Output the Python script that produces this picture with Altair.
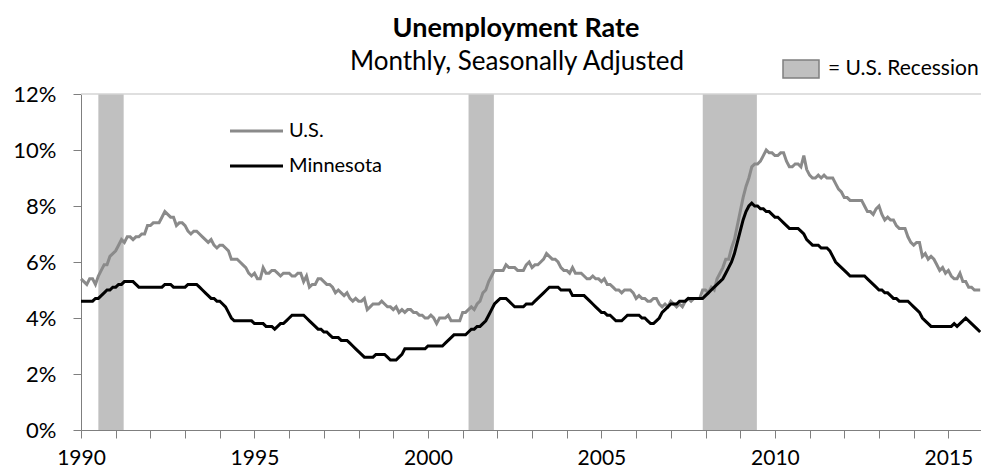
import altair as alt
import pandas as pd

# ---------------- data ----------------
years = list(range(1990, 2016))

us_rate = {
    1990: [5.4, 5.3, 5.2, 5.4, 5.4, 5.2, 5.5, 5.7, 5.9, 5.9, 6.2, 6.3],
    1991: [6.4, 6.6, 6.8, 6.7, 6.9, 6.9, 6.8, 6.9, 6.9, 7.0, 7.0, 7.3],
    1992: [7.3, 7.4, 7.4, 7.4, 7.6, 7.8, 7.7, 7.6, 7.6, 7.3, 7.4, 7.4],
    1993: [7.3, 7.1, 7.0, 7.1, 7.1, 7.0, 6.9, 6.8, 6.7, 6.8, 6.6, 6.5],
    1994: [6.6, 6.6, 6.5, 6.4, 6.1, 6.1, 6.1, 6.0, 5.9, 5.8, 5.6, 5.5],
    1995: [5.6, 5.4, 5.4, 5.8, 5.6, 5.6, 5.7, 5.7, 5.6, 5.5, 5.6, 5.6],
    1996: [5.6, 5.5, 5.5, 5.6, 5.6, 5.3, 5.5, 5.1, 5.2, 5.2, 5.4, 5.4],
    1997: [5.3, 5.2, 5.2, 5.1, 4.9, 5.0, 4.9, 4.8, 4.9, 4.7, 4.6, 4.7],
    1998: [4.6, 4.6, 4.7, 4.3, 4.4, 4.5, 4.5, 4.5, 4.6, 4.5, 4.4, 4.4],
    1999: [4.3, 4.4, 4.2, 4.3, 4.2, 4.3, 4.3, 4.2, 4.2, 4.1, 4.1, 4.0],
    2000: [4.0, 4.1, 4.0, 3.8, 4.0, 4.0, 4.0, 4.1, 3.9, 3.9, 3.9, 3.9],
    2001: [4.2, 4.2, 4.3, 4.4, 4.3, 4.5, 4.6, 4.9, 5.0, 5.3, 5.5, 5.7],
    2002: [5.7, 5.7, 5.7, 5.9, 5.8, 5.8, 5.8, 5.7, 5.7, 5.7, 5.9, 6.0],
    2003: [5.8, 5.9, 5.9, 6.0, 6.1, 6.3, 6.2, 6.1, 6.1, 6.0, 5.8, 5.7],
    2004: [5.7, 5.6, 5.8, 5.6, 5.6, 5.6, 5.5, 5.4, 5.4, 5.5, 5.4, 5.4],
    2005: [5.3, 5.4, 5.2, 5.2, 5.1, 5.0, 5.0, 4.9, 5.0, 5.0, 5.0, 4.9],
    2006: [4.7, 4.8, 4.7, 4.7, 4.6, 4.6, 4.7, 4.7, 4.5, 4.4, 4.5, 4.4],
    2007: [4.6, 4.5, 4.4, 4.5, 4.4, 4.6, 4.7, 4.6, 4.7, 4.7, 4.7, 5.0],
    2008: [5.0, 4.9, 5.1, 5.0, 5.4, 5.6, 5.8, 6.1, 6.1, 6.5, 6.8, 7.3],
    2009: [7.8, 8.3, 8.7, 9.0, 9.4, 9.5, 9.5, 9.6, 9.8, 10.0, 9.9, 9.9],
    2010: [9.8, 9.8, 9.9, 9.9, 9.6, 9.4, 9.4, 9.5, 9.5, 9.4, 9.8, 9.3],
    2011: [9.1, 9.0, 9.0, 9.1, 9.0, 9.1, 9.0, 9.0, 9.0, 8.8, 8.6, 8.5],
    2012: [8.3, 8.3, 8.2, 8.2, 8.2, 8.2, 8.2, 8.0, 7.8, 7.8, 7.7, 7.9],
    2013: [8.0, 7.7, 7.5, 7.6, 7.5, 7.5, 7.3, 7.2, 7.2, 7.2, 6.9, 6.7],
    2014: [6.6, 6.7, 6.7, 6.2, 6.3, 6.1, 6.2, 6.1, 5.9, 5.7, 5.8, 5.6],
    2015: [5.7, 5.5, 5.4, 5.4, 5.6, 5.3, 5.3, 5.1, 5.1, 5.0, 5.0, 5.0],
}

mn_rate = {
    1990: [4.6, 4.6, 4.6, 4.6, 4.6, 4.7, 4.7, 4.8, 4.9, 5.0, 5.0, 5.1],
    1991: [5.1, 5.2, 5.2, 5.3, 5.3, 5.3, 5.3, 5.2, 5.1, 5.1, 5.1, 5.1],
    1992: [5.1, 5.1, 5.1, 5.1, 5.1, 5.2, 5.2, 5.2, 5.1, 5.1, 5.1, 5.1],
    1993: [5.1, 5.2, 5.2, 5.2, 5.2, 5.1, 5.0, 4.9, 4.8, 4.7, 4.7, 4.6],
    1994: [4.6, 4.5, 4.4, 4.2, 4.0, 3.9, 3.9, 3.9, 3.9, 3.9, 3.9, 3.9],
    1995: [3.8, 3.8, 3.8, 3.8, 3.7, 3.7, 3.7, 3.6, 3.7, 3.8, 3.8, 3.9],
    1996: [4.0, 4.1, 4.1, 4.1, 4.1, 4.1, 4.0, 3.9, 3.8, 3.7, 3.6, 3.6],
    1997: [3.5, 3.5, 3.4, 3.3, 3.3, 3.3, 3.2, 3.2, 3.2, 3.1, 3.0, 2.9],
    1998: [2.8, 2.7, 2.6, 2.6, 2.6, 2.6, 2.7, 2.7, 2.7, 2.7, 2.6, 2.5],
    1999: [2.5, 2.5, 2.6, 2.7, 2.9, 2.9, 2.9, 2.9, 2.9, 2.9, 2.9, 2.9],
    2000: [3.0, 3.0, 3.0, 3.0, 3.0, 3.0, 3.1, 3.2, 3.3, 3.4, 3.4, 3.4],
    2001: [3.4, 3.4, 3.5, 3.6, 3.6, 3.7, 3.7, 3.8, 3.9, 4.1, 4.3, 4.5],
    2002: [4.6, 4.7, 4.7, 4.7, 4.6, 4.5, 4.4, 4.4, 4.4, 4.4, 4.5, 4.5],
    2003: [4.5, 4.6, 4.7, 4.8, 4.9, 5.0, 5.1, 5.1, 5.1, 5.1, 5.0, 5.0],
    2004: [5.0, 5.0, 4.8, 4.8, 4.8, 4.8, 4.8, 4.7, 4.6, 4.5, 4.4, 4.3],
    2005: [4.2, 4.2, 4.1, 4.1, 4.0, 3.9, 3.9, 3.9, 4.0, 4.1, 4.1, 4.1],
    2006: [4.1, 4.1, 4.0, 4.0, 3.9, 3.8, 3.8, 3.9, 4.0, 4.2, 4.3, 4.4],
    2007: [4.5, 4.5, 4.5, 4.6, 4.6, 4.6, 4.7, 4.7, 4.7, 4.7, 4.7, 4.7],
    2008: [4.8, 4.9, 5.0, 5.1, 5.2, 5.3, 5.4, 5.6, 5.8, 6.0, 6.3, 6.7],
    2009: [7.1, 7.5, 7.8, 8.0, 8.1, 8.0, 8.0, 7.9, 7.9, 7.8, 7.8, 7.7],
    2010: [7.6, 7.6, 7.5, 7.4, 7.3, 7.2, 7.2, 7.2, 7.2, 7.1, 7.0, 6.8],
    2011: [6.7, 6.6, 6.6, 6.6, 6.5, 6.5, 6.5, 6.4, 6.2, 6.0, 5.9, 5.8],
    2012: [5.7, 5.6, 5.5, 5.5, 5.5, 5.5, 5.5, 5.5, 5.4, 5.3, 5.2, 5.1],
    2013: [5.0, 5.0, 4.9, 4.9, 4.8, 4.7, 4.7, 4.6, 4.6, 4.6, 4.6, 4.5],
    2014: [4.4, 4.3, 4.2, 4.0, 3.9, 3.8, 3.7, 3.7, 3.7, 3.7, 3.7, 3.7],
    2015: [3.7, 3.7, 3.8, 3.7, 3.8, 3.9, 4.0, 3.9, 3.8, 3.7, 3.6, 3.5],
}

recession_start = [1990.50, 2001.17, 2007.92]
recession_end = [1991.23, 2001.90, 2009.48]

y_ticks = [0, 2, 4, 6, 8, 10, 12]
x_ticks = years

# ---------------- tables ----------------
rows = []
for yr in years:
    for m in range(12):
        rows.append({"t": yr + m / 12.0, "series": "U.S.", "rate": us_rate[yr][m]})
        rows.append({"t": yr + m / 12.0, "series": "Minnesota", "rate": mn_rate[yr][m]})
df = pd.DataFrame(rows)
rec = pd.DataFrame({"start": recession_start, "end": recession_end})

FONT = "Lato"
AX = "#7f7f7f"
GRAY_LINE = "#8a8a8a"
REC = "#c0c0c0"
W, H = 900, 336

xscale = alt.Scale(domain=[1990, 2015.94], nice=False, zero=False)
yscale = alt.Scale(domain=[0, 12], nice=False)

x_axis = alt.Axis(values=x_ticks, labelExpr="datum.value % 5 == 0 ? datum.value : ''",
                  title=None, grid=False, ticks=True, tickSize=8, tickWidth=1, labelPadding=9,
                  labelOverlap=False, labelFontSize=21, labelFont=FONT, labelColor="#000000",
                  domainColor=AX, domainWidth=1, tickColor=AX, labelFlush=False)
y_axis = alt.Axis(values=y_ticks, labelExpr="datum.value + '%'", title=None, grid=False,
                  ticks=True, tickSize=8, tickWidth=1, labelPadding=17, labelFontSize=22,
                  labelFont=FONT, labelColor="#000000", domainColor=AX, domainWidth=1,
                  tickColor=AX)

bars = alt.Chart(rec).mark_rect(color=REC).encode(
    x=alt.X("start:Q", scale=xscale, axis=x_axis),
    x2="end:Q",
    y=alt.value(0),
    y2=alt.value(H),
)

top_line = alt.Chart(pd.DataFrame({"v": [12]})).mark_rule(color="#d4d4d4", strokeWidth=1.5).encode(
    y=alt.Y("v:Q", scale=yscale, axis=y_axis),
    x=alt.value(0),
    x2=alt.value(W),
)

us_line = alt.Chart(df[df.series == "U.S."]).mark_line(color=GRAY_LINE, strokeWidth=3).encode(
    x=alt.X("t:Q", scale=xscale, axis=x_axis),
    y=alt.Y("rate:Q", scale=yscale, axis=y_axis),
)
mn_line = alt.Chart(df[df.series == "Minnesota"]).mark_line(color="#000000", strokeWidth=3).encode(
    x=alt.X("t:Q", scale=xscale, axis=x_axis),
    y=alt.Y("rate:Q", scale=yscale, axis=y_axis),
)

one = alt.Data(values=[{"a": 1}])

def txt(s, x, y, size, bold=False, align="left"):
    return alt.Chart(one).mark_text(text=s, font=FONT, fontSize=size,
                                    fontWeight="bold" if bold else "normal",
                                    align=align, baseline="middle", color="#000000").encode(
        x=alt.value(x), y=alt.value(y))

title = txt("Unemployment Rate", 435, -65, 27, bold=True, align="center")
subtitle = txt("Monthly, Seasonally Adjusted", 436, -32, 26, align="center")

leg_us = alt.Chart(one).mark_rule(color=GRAY_LINE, strokeWidth=3).encode(
    x=alt.value(149), x2=alt.value(202), y=alt.value(37))
leg_mn = alt.Chart(one).mark_rule(color="#000000", strokeWidth=3).encode(
    x=alt.value(149), x2=alt.value(202), y=alt.value(72))
leg_us_t = txt("U.S.", 208, 37, 20)
leg_mn_t = txt("Minnesota", 208, 72, 20)

rec_box = alt.Chart(one).mark_rect(color=REC, stroke="#7f7f7f", strokeWidth=1.5).encode(
    x=alt.value(702), x2=alt.value(738), y=alt.value(-34), y2=alt.value(-16))
rec_t = txt("= U.S. Recession", 747, -25, 21)

chart = alt.layer(
    bars, top_line, us_line, mn_line, title, subtitle,
    leg_us, leg_mn, leg_us_t, leg_mn_t, rec_box, rec_t
).properties(
    width=W, height=H,
    autosize=alt.AutoSizeParams(type="none"),
    padding={"left": 73, "top": 86, "right": 0, "bottom": 43},
).configure_view(stroke=None)

chart.save("out.html", embed_options={"renderer": "svg", "actions": False})
